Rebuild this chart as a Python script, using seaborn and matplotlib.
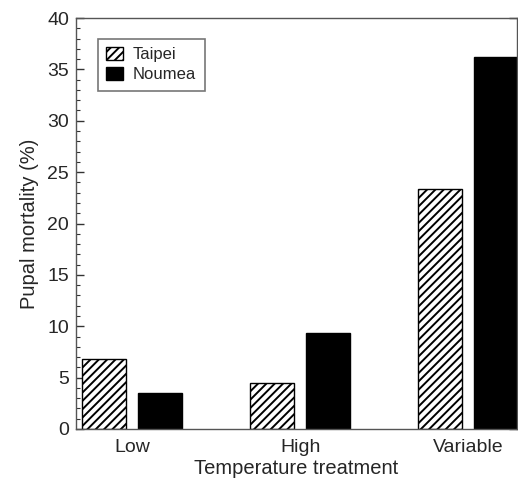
import pandas as pd
import numpy as np
import matplotlib
matplotlib.use("Agg")
import matplotlib.pyplot as plt
import seaborn as sns
from matplotlib.ticker import MultipleLocator

# values
treatments = ['Low', 'High', 'Variable']
taipei = [6.8, 4.45, 23.35]
noumea = [3.55, 9.3, 36.2]
strains = ['Taipei', 'Noumea']

data = pd.DataFrame({
    'treatment': treatments * 2,
    'strain': ['Taipei'] * 3 + ['Noumea'] * 3,
    'mortality': taipei + noumea,
})

sns.set_style("white")
plt.rcParams['font.family'] = ['Liberation Sans', 'DejaVu Sans']
plt.rcParams['hatch.linewidth'] = 1.4

fig = plt.figure(figsize=(5.18, 4.79), dpi=100)
ax = fig.add_axes([0.1467, 0.1044, 0.8513, 0.8580])

sns.barplot(data=data, x='treatment', y='mortality', hue='strain',
            order=treatments, hue_order=strains,
            palette=['white', 'black'], width=0.667, gap=0.21,
            edgecolor='black', linewidth=1.0, legend=False, ax=ax)

for p in ax.containers[0].patches:
    p.set_hatch('////')

ax.set_ylim(0, 40)
ax.set_xlim(-0.333, 2.29)
ax.yaxis.set_major_locator(MultipleLocator(5))
ax.yaxis.set_minor_locator(MultipleLocator(1))
ax.tick_params(axis='y', which='major', direction='in', length=6, width=1,
               left=True, right=True, labelsize=14, color='#333333', pad=5)
ax.tick_params(axis='y', which='minor', direction='in', length=3, width=0.8,
               left=True, right=False, color='#333333')
ax.tick_params(axis='x', bottom=False, labelsize=14, pad=4)

for s in ax.spines.values():
    s.set_color('#555555')
    s.set_linewidth(1.0)

ax.set_xlabel('Temperature treatment', fontsize=14.5, labelpad=2)
ax.set_ylabel('Pupal mortality (%)', fontsize=14.5, labelpad=6)

handles = [ax.containers[0].patches[0], ax.containers[1].patches[0]]
leg = ax.legend(handles, strains, loc='upper left', bbox_to_anchor=(0.05, 0.95),
                borderaxespad=0, fontsize=12, fancybox=False, frameon=True,
                handlelength=1.0, handleheight=0.8, handletextpad=0.6,
                labelspacing=0.3, borderpad=0.5)
leg.get_frame().set_edgecolor('#555555')
leg.get_frame().set_linewidth(1.2)

fig.savefig('out.png', dpi=100)
